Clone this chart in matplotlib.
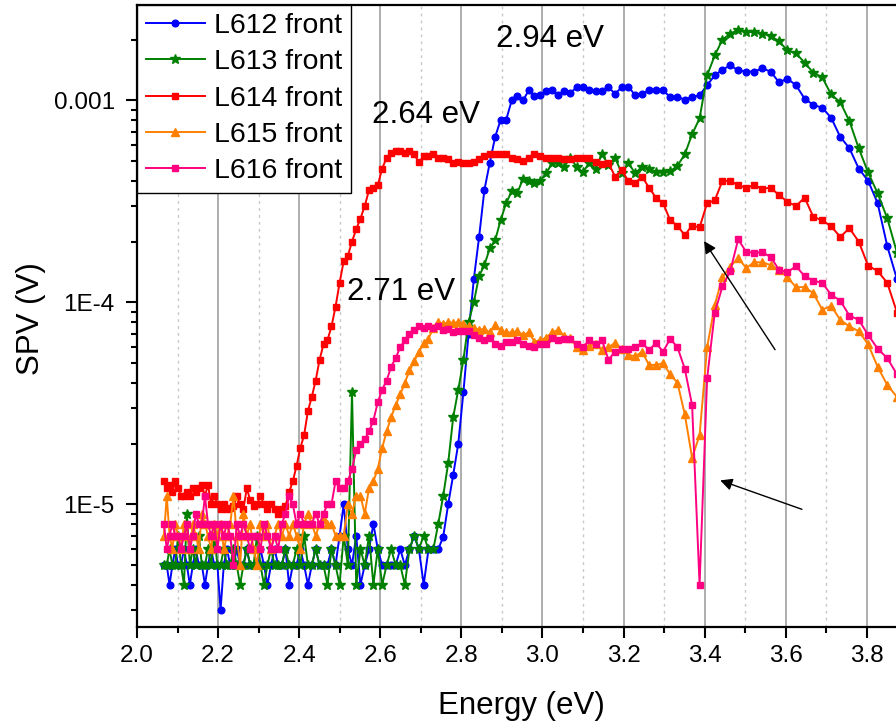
import numpy as np
import matplotlib
matplotlib.use("Agg")
import matplotlib.pyplot as plt
from matplotlib.ticker import LogLocator, NullFormatter, MultipleLocator

plt.rcParams['font.family'] = ['Liberation Sans', 'DejaVu Sans']

# monochromator scan: 600 nm down to 320 nm in 2 nm steps
wavelength_nm = np.arange(600, 318, -2)
energy_ev = 1239.84 / wavelength_nm

# SPV signal (V), one value per wavelength step, rows of 10 steps (20 nm)
l612 = [
    5e-6, 5e-6, 4e-6, 5e-6, 6e-6, 5e-6, 5e-6, 6e-6, 5e-6, 4e-6,               # 600-582
    5e-6, 6e-6, 5e-6, 5e-6, 4e-6, 5e-6, 6e-6, 5e-6, 5e-6, 3e-6,               # 580-562
    5e-6, 6e-6, 5e-6, 5e-6, 6e-6, 5e-6, 5e-6, 6e-6, 5e-6, 5e-6,               # 560-542
    5e-6, 6e-6, 5e-6, 4e-6, 5e-6, 6e-6, 5e-6, 5e-6, 6e-6, 4e-6,               # 540-522
    5e-6, 5e-6, 6e-6, 5e-6, 4e-6, 5e-6, 6e-6, 5e-6, 5e-6, 5e-6,               # 520-502
    6e-6, 5e-6, 7e-6, 1e-5, 6e-6, 5e-6, 7e-6, 4e-6, 5e-6, 6e-6,               # 500-482
    8e-6, 6e-6, 5e-6, 5e-6, 5e-6, 5e-6, 6e-6, 5e-6, 6e-6, 7e-6,               # 480-462
    6e-6, 4e-6, 6e-6, 6e-6, 6e-6, 6.9e-6, 1.0e-5, 1.4e-5, 2.0e-5, 3.6e-5,     # 460-442
    7.0e-5, 1.3e-4, 2.1e-4, 3.6e-4, 4.9e-4, 6.6e-4, 8.0e-4, 8.0e-4, 1.0e-3, 1.05e-3,
    1.0e-3, 1.12e-3, 1.05e-3, 1.06e-3, 1.11e-3, 1.12e-3, 1.06e-3, 1.11e-3, 1.09e-3, 1.16e-3,
    1.17e-3, 1.12e-3, 1.11e-3, 1.11e-3, 1.16e-3, 1.08e-3, 1.16e-3, 1.17e-3, 1.06e-3, 1.07e-3,
    1.13e-3, 1.13e-3, 1.12e-3, 1.04e-3, 1.04e-3, 1.01e-3, 1.04e-3, 1.06e-3, 1.19e-3, 1.33e-3,
    1.42e-3, 1.49e-3, 1.41e-3, 1.39e-3, 1.39e-3, 1.44e-3, 1.39e-3, 1.23e-3, 1.28e-3, 1.19e-3,
    1.02e-3, 9.5e-4, 9.2e-4, 8.2e-4, 6.6e-4, 5.8e-4, 4.6e-4, 4.0e-4, 3.1e-4, 1.9e-4,
    1.3e-4,
]

l613 = [
    5e-6, 5e-6, 6e-6, 5e-6, 5e-6, 7e-6, 5e-6, 4e-6, 9e-6, 5e-6,
    6e-6, 5e-6, 7e-6, 5e-6, 5e-6, 6e-6, 5e-6, 7e-6, 5e-6, 5e-6,
    6e-6, 5e-6, 5e-6, 6e-6, 5e-6, 4e-6, 5e-6, 6e-6, 5e-6, 5e-6,
    7e-6, 5e-6, 4e-6, 5e-6, 6e-6, 5e-6, 5e-6, 5e-6, 6e-6, 5e-6,
    5e-6, 6e-6, 5e-6, 7e-6, 5e-6, 5e-6, 6e-6, 5e-6, 5e-6, 4e-6,
    6e-6, 5e-6, 4e-6, 7e-6, 5e-6, 3.6e-5, 4e-6, 6e-6, 5e-6, 7e-6,
    4e-6, 6e-6, 4e-6, 5e-6, 6e-6, 5e-6, 5e-6, 4e-6, 6e-6, 7e-6,
    6e-6, 7e-6, 6e-6, 6e-6, 8e-6, 1.1e-5, 1.6e-5, 2.7e-5, 3.7e-5, 5.2e-5,
    8.0e-5, 1.0e-4, 1.35e-4, 1.53e-4, 1.85e-4, 2.03e-4, 2.55e-4, 3.1e-4, 3.55e-4, 3.47e-4,
    4.1e-4, 4.0e-4, 3.9e-4, 4.0e-4, 4.36e-4, 4.9e-4, 4.9e-4, 4.7e-4, 5.2e-4, 4.7e-4,
    4.4e-4, 4.9e-4, 4.6e-4, 5.4e-4, 4.8e-4, 5.2e-4, 4.36e-4, 4.89e-4, 4.36e-4, 4.7e-4,
    4.6e-4, 4.4e-4, 4.4e-4, 4.45e-4, 4.75e-4, 5.4e-4, 6.8e-4, 8.15e-4, 1.33e-3, 1.67e-3,
    2.0e-3, 2.14e-3, 2.24e-3, 2.17e-3, 2.19e-3, 2.14e-3, 2.09e-3, 1.96e-3, 1.77e-3, 1.71e-3,
    1.54e-3, 1.37e-3, 1.30e-3, 1.07e-3, 9.8e-4, 7.9e-4, 5.8e-4, 4.4e-4, 3.47e-4, 2.61e-4,
    1.76e-4,
]

l614 = [
    1.3e-5, 1.2e-5, 1.25e-5, 1.15e-5, 1.3e-5, 1.2e-5, 1.1e-5, 1.1e-5, 1.15e-5, 1.1e-5,
    1.2e-5, 1.15e-5, 1.2e-5, 1.25e-5, 1.1e-5, 1.25e-5, 1.0e-5, 1.1e-5, 1.0e-5, 9.5e-6,
    1.0e-5, 9.5e-6, 9.6e-6, 9.8e-6, 1.1e-5, 1.0e-5, 9.5e-6, 1.2e-5, 1.05e-5, 9.8e-6,
    1.0e-5, 1.1e-5, 1.0e-5, 9.5e-6, 1.0e-5, 9.5e-6, 9.0e-6, 9.5e-6, 9.8e-6, 1.15e-5,
    1.3e-5, 1.55e-5, 1.9e-5, 2.2e-5, 2.9e-5, 3.4e-5, 4.1e-5, 5.2e-5, 6.2e-5, 6.5e-5,
    7.6e-5, 9.5e-5, 1.25e-4, 1.6e-4, 1.7e-4, 2.0e-4, 2.3e-4, 2.6e-4, 3.0e-4, 3.6e-4,
    3.7e-4, 3.8e-4, 4.6e-4, 5.2e-4, 5.5e-4, 5.6e-4, 5.6e-4, 5.5e-4, 5.6e-4, 5.4e-4,
    4.95e-4, 5.3e-4, 5.3e-4, 5.4e-4, 5.2e-4, 5.2e-4, 5.1e-4, 4.9e-4, 4.95e-4, 4.9e-4,
    4.9e-4, 4.95e-4, 5.1e-4, 5.3e-4, 5.4e-4, 5.4e-4, 5.45e-4, 5.4e-4, 5.2e-4, 5.1e-4,
    5.0e-4, 5.2e-4, 5.4e-4, 5.3e-4, 5.2e-4, 5.2e-4, 5.2e-4, 5.15e-4, 5.15e-4, 5.2e-4,
    5.2e-4, 5.2e-4, 4.95e-4, 4.85e-4, 4.9e-4, 4.2e-4, 4.5e-4, 4.0e-4, 3.9e-4, 4.2e-4,
    3.7e-4, 3.3e-4, 3.1e-4, 2.55e-4, 2.4e-4, 2.15e-4, 2.4e-4, 2.35e-4, 3.1e-4, 3.2e-4,
    4.0e-4, 4.0e-4, 3.8e-4, 3.7e-4, 3.8e-4, 3.65e-4, 3.7e-4, 3.4e-4, 3.15e-4, 3.0e-4,
    3.3e-4, 2.65e-4, 2.55e-4, 2.38e-4, 2.11e-4, 2.33e-4, 2.0e-4, 1.52e-4, 1.43e-4, 1.25e-4,
    8.9e-5,
]

l615 = [
    7e-6, 1.1e-5, 7e-6, 6e-6, 8e-6, 7e-6, 6e-6, 8e-6, 7e-6, 6e-6,
    8e-6, 7e-6, 6e-6, 9e-6, 8e-6, 7e-6, 6e-6, 8e-6, 7e-6, 8e-6,
    6e-6, 7e-6, 8e-6, 1.1e-5, 7e-6, 5e-6, 9e-6, 7e-6, 8e-6, 6e-6,
    5e-6, 8e-6, 7e-6, 8e-6, 6e-6, 7e-6, 8e-6, 7e-6, 8e-6, 7e-6,
    8e-6, 7e-6, 6e-6, 8e-6, 9e-6, 8e-6, 7e-6, 8e-6, 8.5e-6, 8e-6,
    8e-6, 7e-6, 7e-6, 7e-6, 1.0e-5, 9e-6, 1.1e-5, 1.1e-5, 9e-6, 1.2e-5,
    1.3e-5, 1.5e-5, 1.9e-5, 2.3e-5, 2.7e-5, 3.1e-5, 3.5e-5, 4.0e-5, 4.6e-5, 5.1e-5,
    5.7e-5, 6.3e-5, 6.6e-5, 7.5e-5, 8.0e-5, 7.8e-5, 8.0e-5, 7.9e-5, 8.0e-5, 7.8e-5,
    7.6e-5, 7.5e-5, 7.3e-5, 7.4e-5, 7.1e-5, 7.7e-5, 7.3e-5, 7.1e-5, 7.1e-5, 7.2e-5,
    6.9e-5, 7.1e-5, 6.4e-5, 6.5e-5, 6.7e-5, 7.1e-5, 7.3e-5, 6.8e-5, 6.7e-5, 6.0e-5,
    5.8e-5, 6.1e-5, 6.2e-5, 5.8e-5, 6.0e-5, 6.3e-5, 5.9e-5, 5.5e-5, 5.4e-5, 5.7e-5,
    4.9e-5, 4.9e-5, 5.0e-5, 4.4e-5, 4.0e-5, 2.8e-5, 1.7e-5, 2.2e-5, 6.0e-5, 9.7e-5,
    1.34e-4, 1.5e-4, 1.66e-4, 1.48e-4, 1.58e-4, 1.58e-4, 1.53e-4, 1.45e-4, 1.33e-4, 1.19e-4,
    1.19e-4, 1.11e-4, 9.2e-5, 9.6e-5, 8.2e-5, 7.6e-5, 7.2e-5, 6.2e-5, 4.8e-5, 3.9e-5,
    3.4e-5,
]

l616 = [
    8e-6, 6e-6, 7e-6, 8e-6, 7e-6, 7e-6, 6e-6, 7e-6, 8e-6, 6e-6,
    7e-6, 9e-6, 8e-6, 8e-6, 1.1e-5, 8e-6, 7e-6, 8e-6, 6e-6, 8e-6,
    7e-6, 8e-6, 7e-6, 5e-6, 8e-6, 7e-6, 8e-6, 7e-6, 6e-6, 7e-6,
    7e-6, 6e-6, 8e-6, 7e-6, 6e-6, 7e-6, 6e-6, 8e-6, 9e-6, 1.1e-5,
    1.0e-5, 8e-6, 9e-6, 8e-6, 8e-6, 8e-6, 9e-6, 8e-6, 9e-6, 1.0e-5,
    1.0e-5, 1.3e-5, 1.2e-5, 1.2e-5, 1.3e-5, 1.5e-5, 1.85e-5, 2.0e-5, 2.1e-5, 2.3e-5,
    2.6e-5, 3.2e-5, 3.7e-5, 4.1e-5, 4.8e-5, 5.3e-5, 6.0e-5, 6.5e-5, 7.0e-5, 7.3e-5,
    7.6e-5, 7.5e-5, 7.6e-5, 7.5e-5, 7.6e-5, 7.3e-5, 7.4e-5, 7.1e-5, 7.2e-5, 7.2e-5,
    7.2e-5, 6.9e-5, 6.7e-5, 6.5e-5, 6.7e-5, 6.2e-5, 6.1e-5, 6.4e-5, 6.4e-5, 6.5e-5,
    6.2e-5, 6.1e-5, 6.0e-5, 6.2e-5, 6.2e-5, 6.7e-5, 6.5e-5, 6.6e-5, 6.6e-5, 6.2e-5,
    6.0e-5, 6.5e-5, 6.2e-5, 6.5e-5, 5.2e-5, 5.7e-5, 5.9e-5, 5.9e-5, 6.0e-5, 6.3e-5,
    5.8e-5, 6.3e-5, 5.7e-5, 6.6e-5, 6.0e-5, 4.7e-5, 3.1e-5, 4.0e-6, 4.2e-5, 8.9e-5,
    1.2e-4, 1.43e-4, 2.05e-4, 1.78e-4, 1.76e-4, 1.77e-4, 1.68e-4, 1.45e-4, 1.41e-4, 1.51e-4,
    1.35e-4, 1.28e-4, 1.25e-4, 1.09e-4, 1.02e-4, 8.6e-5, 8.2e-5, 6.9e-5, 5.9e-5, 5.3e-5,
    4.4e-5,
]

labels = ["L612 front", "L613 front", "L614 front", "L615 front", "L616 front"]
colors = ["#0000ff", "#008000", "#ff0000", "#ff8000", "#ff0080"]
markers = ["o", "*", "s", "^", "s"]
msizes = [4.8, 7.0, 5.0, 5.8, 5.0]

yticks = [1e-5, 1e-4, 1e-3]
ytick_labels = ["1E-5", "1E-4", "0.001"]

W, H = 896, 728
fig = plt.figure(figsize=(W / 100, H / 100), dpi=100)
ax = fig.add_axes([137 / W, (H - 627) / H, (896 - 137) / W, (627 - 4.5) / H])

for vals, lab, c, m, ms in zip([l612, l613, l614, l615, l616], labels, colors, markers, msizes):
    ax.plot(energy_ev, vals, color=c, marker=m, ms=ms, mec=c, mfc=c, lw=1.4, label=lab)

ax.set_yscale("log")
ax.set_xlim(2.0, 3.872)
ax.set_ylim(2.47e-6, 2.985e-3)

ax.xaxis.set_major_locator(MultipleLocator(0.2))
ax.xaxis.set_minor_locator(MultipleLocator(0.1))
ax.xaxis.set_major_formatter(plt.FormatStrFormatter("%.1f"))
ax.set_yticks(yticks)
ax.set_yticklabels(ytick_labels)
ax.yaxis.set_minor_locator(LogLocator(base=10, subs=np.arange(2, 10)))
ax.yaxis.set_minor_formatter(NullFormatter())

ax.grid(True, axis="x", which="major", color="#a0a0a0", lw=1.2, ls="-")
ax.grid(True, axis="x", which="minor", color="#c8c8c8", lw=1.0, ls=(0, (2, 3)))
ax.set_axisbelow(True)

ax.tick_params(which="major", direction="out", length=8, width=1.5,
               labelsize=17.5, top=False, right=False)
ax.tick_params(which="minor", direction="out", length=4.5, width=1.5,
               top=False, right=False)
ax.tick_params(axis="x", which="major", pad=5)
ax.tick_params(axis="y", which="major", pad=8)

for side in ["left", "bottom", "top"]:
    ax.spines[side].set_linewidth(1.6)
ax.spines["right"].set_visible(False)

ax.set_xlabel("Energy (eV)", fontsize=22.5)
ax.set_ylabel("SPV (V)", fontsize=22.5)
ax.xaxis.set_label_coords(0.507, -0.103)
ax.yaxis.set_label_coords(-0.12, 0.496)

leg = ax.legend(loc="upper left", bbox_to_anchor=(0, 1), borderaxespad=0,
                fontsize=20.5, handlelength=2.1, handletextpad=0.3,
                labelspacing=0.36, borderpad=0.3, fancybox=False,
                framealpha=1, edgecolor="black")
leg.get_frame().set_linewidth(1.0)

ax.text(2.886, 1.83e-3, "2.94 eV", fontsize=22.5, ha="left", va="baseline")
ax.text(2.580, 7.7e-4, "2.64 eV", fontsize=22.5, ha="left", va="baseline")
ax.text(2.5185, 1.028e-4, "2.71 eV", fontsize=22.5, ha="left", va="baseline")

arrow = dict(arrowstyle="-|>", color="black", lw=1.0, mutation_scale=18,
             shrinkA=0, shrinkB=0)
ax.annotate("", xy=(3.3987, 2.01e-4), xytext=(3.5737, 5.83e-5), arrowprops=arrow)
ax.annotate("", xy=(3.4384, 1.314e-5), xytext=(3.640, 9.45e-6), arrowprops=arrow)

fig.savefig("out.png", dpi=100)
